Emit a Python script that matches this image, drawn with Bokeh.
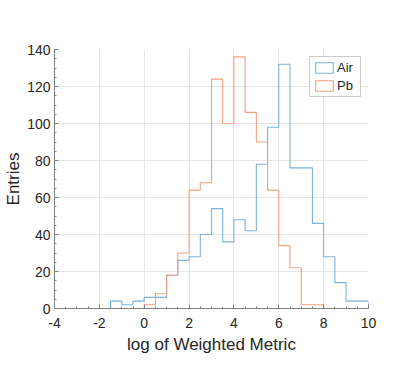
from bokeh.plotting import figure
from bokeh.models import Range1d, SingleIntervalTicker, Legend, LegendItem, PrintfTickFormatter
from bokeh.embed import file_html
from bokeh.resources import INLINE

# Data (histogram stairs, bin width 0.5)
bin_width = 0.5
air_start = -1.5
air_counts = [4, 2, 4, 6, 6, 18, 26, 28, 40, 54, 36, 48, 42, 78, 98, 132, 76, 76, 46, 28, 14, 4, 4]
pb_start = 0.0
pb_counts = [2, 8, 18, 30, 64, 68, 124, 100, 136, 106, 90, 64, 34, 22, 2, 2]
series_names = ["Air", "Pb"]
colors = ["#7db2dc", "#f1a183"]


def stairs(start, counts, w):
    xs, ys = [start], [0]
    for i, c in enumerate(counts):
        l = start + i * w
        r = l + w
        xs += [l, r]
        ys += [c, c]
    xs.append(start + len(counts) * w)
    ys.append(0)
    return xs, ys


FONT = "Liberation Sans"
TXT = "#262626"

p = figure(frame_width=314, frame_height=259, output_backend="svg", toolbar_location=None,
           x_range=Range1d(-4, 10), y_range=Range1d(0, 140),
           min_border_left=54, min_border_right=22, min_border_top=49, min_border_bottom=50)
p.outline_line_color = None
p.background_fill_color = "white"

renderers = []
for name, start, counts, col in zip(series_names, [air_start, pb_start], [air_counts, pb_counts], colors):
    xs, ys = stairs(start, counts, bin_width)
    r = p.patch(xs, ys, fill_color=None, line_color=col, line_width=1.1)
    renderers.append((name, r))

legend = Legend(items=[LegendItem(label=n, renderers=[r]) for n, r in renderers],
                location="top_right", margin=7, padding=3, spacing=3,
                glyph_width=22, glyph_height=13, label_standoff=2,
                label_text_font=FONT, label_text_font_size="13px", label_text_color=TXT,
                label_height=14,
                border_line_color="#9a9a9a", border_line_width=1, background_fill_alpha=1)
p.add_layout(legend)

p.xaxis.ticker = SingleIntervalTicker(interval=2, num_minor_ticks=4)
p.yaxis.ticker = SingleIntervalTicker(interval=20, num_minor_ticks=4)
p.xaxis.formatter = PrintfTickFormatter(format="%d")
p.yaxis.formatter = PrintfTickFormatter(format="%d")

for ax in [p.xaxis[0], p.yaxis[0]]:
    ax.axis_line_color = "#808080"
    ax.major_tick_line_color = "#808080"
    ax.minor_tick_line_color = "#808080"
    ax.major_tick_in = 4
    ax.major_tick_out = 0
    ax.minor_tick_in = 2
    ax.minor_tick_out = 0
    ax.major_label_text_font = FONT
    ax.major_label_text_font_size = "14px"
    ax.major_label_text_color = TXT
    ax.axis_label_text_font = FONT
    ax.axis_label_text_font_size = "17px"
    ax.axis_label_text_font_style = "normal"
    ax.axis_label_text_color = TXT

p.xaxis.axis_label = "log of Weighted Metric"
p.yaxis.axis_label = "Entries"
p.xaxis.major_label_standoff = 9
p.yaxis.major_label_standoff = 4
p.xaxis.axis_label_standoff = 4
p.yaxis.axis_label_standoff = 1

p.xgrid.grid_line_color = "#e6e6e6"
p.ygrid.grid_line_color = "#e6e6e6"

open("out.html", "w").write(file_html(p, INLINE))
